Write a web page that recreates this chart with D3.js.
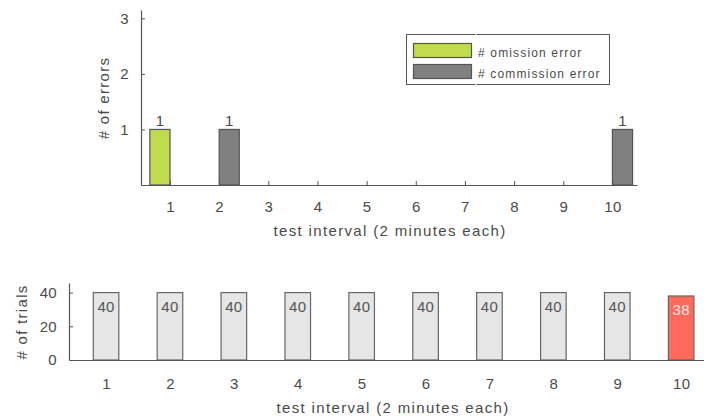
<!DOCTYPE html>
<html>
<head>
<meta charset="utf-8">
<script src="https://cdn.jsdelivr.net/npm/d3@7"></script>
<style>
  html, body { margin: 0; padding: 0; background: #fff; }
  svg { display: block; font-family: "Liberation Sans", Arial, sans-serif; }
</style>
</head>
<body>
<svg id="chart" width="704" height="416"></svg>
<script>
// Test intervals (2 minutes each)
const intervals = [1, 2, 3, 4, 5, 6, 7, 8, 9, 10];
// Error counts per interval
const omissionErrors   = [1, 0, 0, 0, 0, 0, 0, 0, 0, 0];
const commissionErrors = [0, 1, 0, 0, 0, 0, 0, 0, 0, 1];
// Trials completed per interval
const trials = [40, 40, 40, 40, 40, 40, 40, 40, 40, 38];
const errorTicks = [1, 2, 3];
const trialTicks = [0, 20, 40];
const seriesNames = ["# omission error", "# commission error"];

const textColor = "#4a4a4a";
const axisColor = "#555";
const green = "#c0dc4e";
const gray = "#808080";
const lightGray = "#e6e6e6";
const red = "#ff6a5c";
const edge = "#555";
const numFmt = d3.format("d");

const svg = d3.select("#chart");

function styleText(sel, size, spacing) {
  return sel.attr("font-size", size)
    .attr("letter-spacing", spacing)
    .attr("fill", textColor)
    .attr("font-family", "Liberation Sans, Arial, sans-serif");
}

// ---------- Upper panel: errors per interval ----------
const upper = { x0: 141, x1: 637, y0: 10, y1: 185 };
const xTop = d3.scaleLinear().domain([0.41, 10.5]).range([upper.x0, upper.x1]);
const yTop = d3.scaleLinear().domain([0, 3.15]).range([upper.y1, upper.y0]);
const gTop = svg.append("g");

// grouped bars: omission left of tick, commission right of tick
const barW = xTop(1.41) - xTop(1);
const series = [
  { values: omissionErrors, color: green, offset: -barW },
  { values: commissionErrors, color: gray, offset: 0 }
];
series.forEach(s => {
  const data = intervals.map((x, i) => ({ x, v: s.values[i] })).filter(d => d.v > 0);
  gTop.selectAll(null).data(data).enter().append("rect")
    .attr("x", d => xTop(d.x) + s.offset)
    .attr("y", d => yTop(d.v))
    .attr("width", barW)
    .attr("height", d => yTop(0) - yTop(d.v))
    .attr("fill", s.color)
    .attr("stroke", edge)
    .attr("stroke-width", 1.2);
  gTop.selectAll(null).data(data).enter().append("text")
    .attr("x", d => xTop(d.x) + s.offset + barW / 2)
    .attr("y", d => yTop(d.v) - 3)
    .attr("text-anchor", "middle")
    .call(styleText, 15, 0)
    .text(d => d.v);
});

// axes (ticks pointing inward)
const xAxisTop = d3.axisBottom(xTop).tickValues(intervals).tickFormat(numFmt)
  .tickSize(-4).tickPadding(16).tickSizeOuter(0);
const gxTop = gTop.append("g").attr("transform", `translate(0,${upper.y1})`).call(xAxisTop);
const yAxisTop = d3.axisLeft(yTop).tickValues(errorTicks).tickFormat(numFmt)
  .tickSize(-4).tickPadding(12).tickSizeOuter(0);
const gyTop = gTop.append("g").attr("transform", `translate(${upper.x0},0)`).call(yAxisTop);
[gxTop, gyTop].forEach(g => {
  g.select(".domain").attr("stroke", axisColor).attr("stroke-width", 1.2);
  g.selectAll(".tick line").attr("stroke", axisColor);
  g.selectAll(".tick text").call(styleText, 15, 0.3);
});

gTop.append("text")
  .attr("x", 390).attr("y", 236)
  .attr("text-anchor", "middle")
  .call(styleText, 15, 1.35)
  .text("test interval (2 minutes each)");
gTop.append("text")
  .attr("transform", "translate(109,98) rotate(-90)")
  .attr("text-anchor", "middle")
  .call(styleText, 15, 1.3)
  .text("# of errors");

// legend
const legend = gTop.append("g");
legend.append("rect")
  .attr("x", 406.5).attr("y", 34.5).attr("width", 203).attr("height", 50)
  .attr("fill", "#fff").attr("stroke", "#555").attr("stroke-width", 1);
legend.append("line")
  .attr("x1", 476).attr("x2", 476).attr("y1", 33).attr("y2", 86)
  .attr("stroke", "#fff").attr("stroke-width", 1.2);
[green, gray].forEach((c, i) => {
  legend.append("rect")
    .attr("x", 413.5).attr("y", 43.5 + i * 21).attr("width", 58).attr("height", 14)
    .attr("fill", c).attr("stroke", edge).attr("stroke-width", 1.2);
  legend.append("text")
    .attr("x", 478).attr("y", 56.5 + i * 21)
    .call(styleText, 12, 1.15)
    .text(seriesNames[i]);
});

// ---------- Lower panel: trials per interval ----------
const lower = { x0: 69, y0: 283, y1: 360 };
const xBot = d3.scaleLinear().domain([0.42, 10.6]).range([lower.x0, lower.x0 + (10.6 - 0.42) * 63.9]);
const yBot = d3.scaleLinear().domain([0, 45.7]).range([lower.y1, lower.y0]);
const gBot = svg.append("g");
const bw = xBot(1.4) - xBot(1);

const tdata = intervals.map((x, i) => ({ x, v: trials[i], full: trials[i] >= 40 }));
gBot.selectAll(null).data(tdata).enter().append("rect")
  .attr("x", d => xBot(d.x) - bw / 2)
  .attr("y", d => yBot(d.v))
  .attr("width", bw)
  .attr("height", d => yBot(0) - yBot(d.v))
  .attr("fill", d => d.full ? lightGray : red)
  .attr("stroke", "#666")
  .attr("stroke-width", 1.2);
gBot.selectAll(null).data(tdata).enter().append("text")
  .attr("x", d => xBot(d.x))
  .attr("y", d => yBot(d.v) + 19)
  .attr("text-anchor", "middle")
  .call(styleText, 15, 0.3)
  .attr("fill", d => d.full ? "#555" : "#ffe9e6")
  .text(d => d.v);

const xAxisBot = d3.axisBottom(xBot).tickValues(intervals).tickFormat(numFmt)
  .tickSize(0).tickPadding(18).tickSizeOuter(0);
const gxBot = gBot.append("g").attr("transform", `translate(0,${lower.y1})`).call(xAxisBot);
const yAxisBot = d3.axisLeft(yBot).tickValues(trialTicks).tickFormat(numFmt)
  .tickSize(-4).tickPadding(12).tickSizeOuter(0);
const gyBot = gBot.append("g").attr("transform", `translate(${lower.x0},0)`).call(yAxisBot);
[gxBot, gyBot].forEach(g => {
  g.select(".domain").attr("stroke", axisColor).attr("stroke-width", 1.2);
  g.selectAll(".tick line").attr("stroke", axisColor);
  g.selectAll(".tick text").call(styleText, 15, 0.3);
});
gyBot.selectAll(".tick").filter(d => d === 0).select("line").remove();

gBot.append("text")
  .attr("x", 393).attr("y", 413)
  .attr("text-anchor", "middle")
  .call(styleText, 15, 1.35)
  .text("test interval (2 minutes each)");
gBot.append("text")
  .attr("transform", "translate(27,322) rotate(-90)")
  .attr("text-anchor", "middle")
  .call(styleText, 15, 1.3)
  .text("# of trials");
</script>
</body>
</html>
